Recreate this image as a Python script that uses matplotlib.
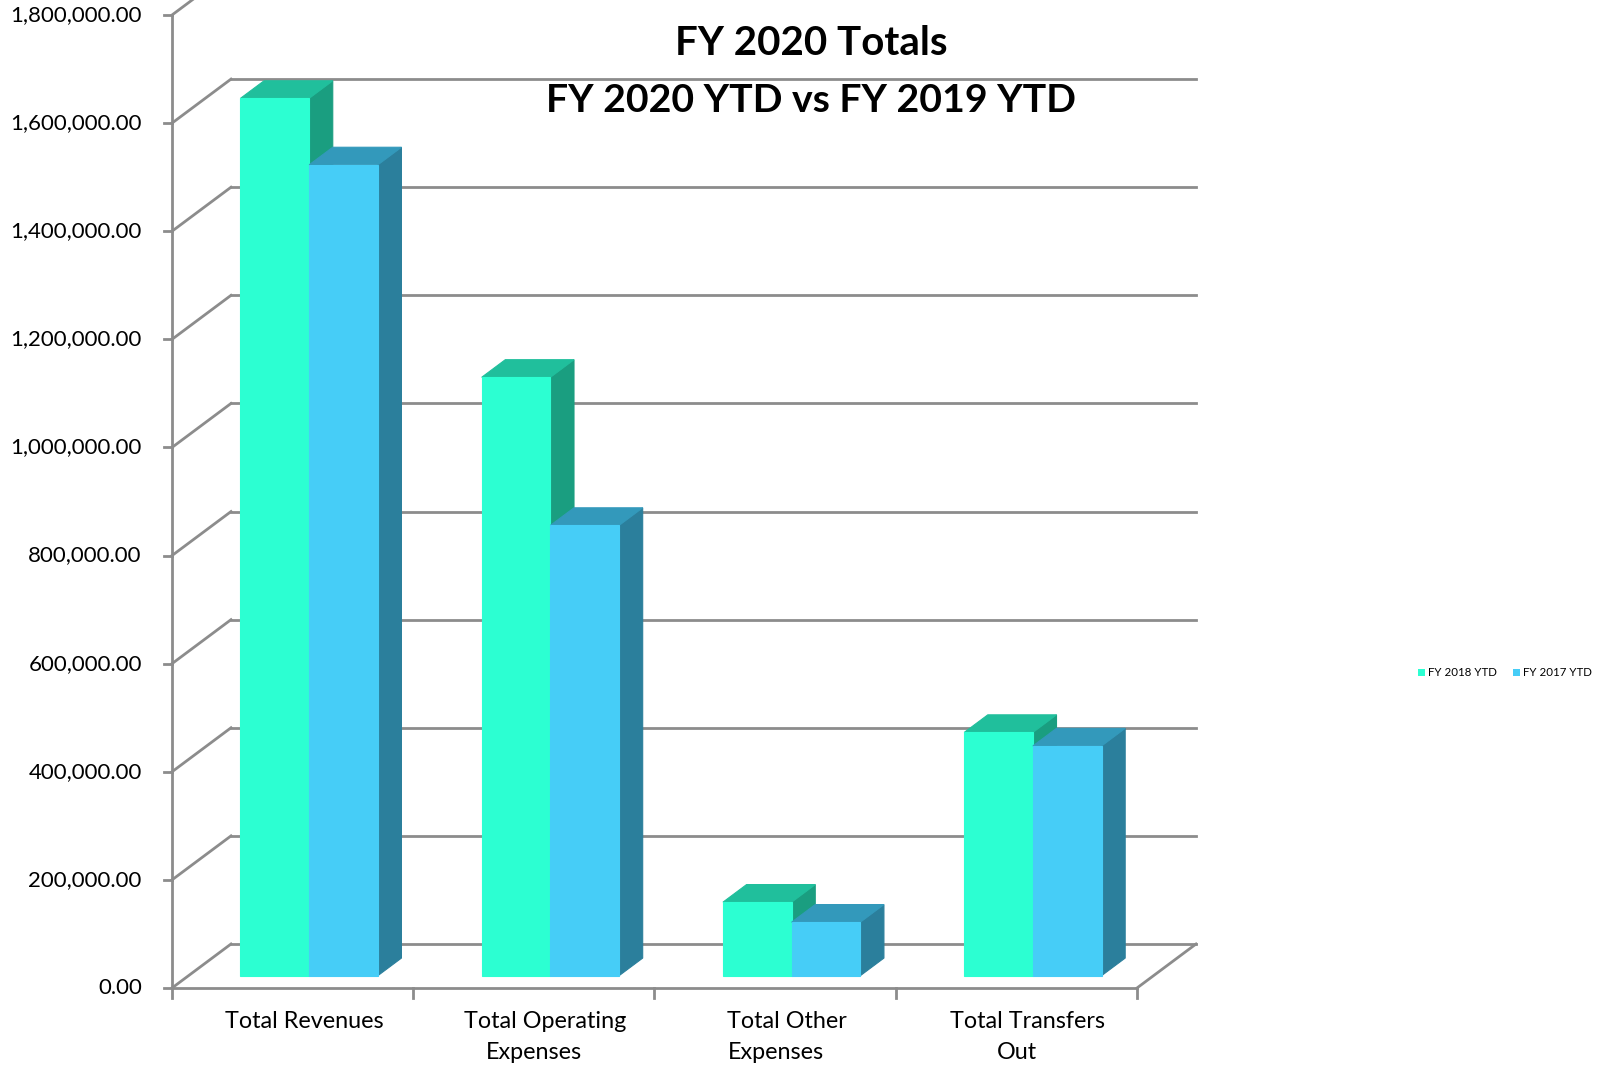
import numpy as np
import matplotlib
matplotlib.use("Agg")
import matplotlib.pyplot as plt
from matplotlib.patches import Polygon

plt.rcParams['font.family'] = ['Lato', 'DejaVu Sans']

categories = ["Total Revenues", "Total Operating\nExpenses", "Total Other\nExpenses", "Total Transfers\nOut"]
series_names = ["FY 2018 YTD", "FY 2017 YTD"]
fy2018 = [1623000, 1107000, 136000, 450000]
fy2017 = [1500000, 833000, 99000, 425000]
yticks = np.arange(0, 1800001, 200000)

# face colours: front, top, side
green = ("#2CFFD2", "#20BF9C", "#1A9E80")
blue = ("#46CDF7", "#3399BB", "#2B7F9C")
grid_c = "#8C8C8C"

# fake 3d: depth d in [0, 1] shifts a point right by d*DX and up by d*DY
DX = 0.2446
DY = 81400
D0, D1 = 0.28, 0.68   # bar front / back depth
BW = 0.2847           # width of one bar


def proj(x, y, d):
    return (x + d * DX, y + d * DY)


def draw_box(ax, x0, x1, h, cols):
    front = [proj(x0, 0, D0), proj(x1, 0, D0), proj(x1, h, D0), proj(x0, h, D0)]
    top = [proj(x0, h, D0), proj(x1, h, D0), proj(x1, h, D1), proj(x0, h, D1)]
    side = [proj(x1, 0, D0), proj(x1, 0, D1), proj(x1, h, D1), proj(x1, h, D0)]
    for pts, c in ((side, cols[2]), (top, cols[1]), (front, cols[0])):
        ax.add_patch(Polygon(pts, closed=True, facecolor=c, edgecolor=c,
                             lw=0.8, zorder=3, clip_on=False))


fig = plt.figure(figsize=(16.06, 10.70), dpi=100)
ax = fig.add_axes([172 / 1606, 82 / 1070, 965 / 1606, 973 / 1070])
ax.set_xlim(0, 4)
ax.set_ylim(0, 1800000)
ax.axis("off")

n = len(categories)
lw = 2.0
# back wall and side wall gridlines
for v in yticks:
    ax.plot([DX, n + DX], [v + DY, v + DY], color=grid_c, lw=lw, zorder=1, clip_on=False)
    ax.plot([0, DX], [v, v + DY], color=grid_c, lw=lw, zorder=1, clip_on=False)
    ax.plot([-0.033, 0], [v, v], color=grid_c, lw=lw, zorder=1, clip_on=False)
    ax.text(-0.125, v, f"{v:,.2f}", ha="right", va="center", fontsize=16, color="#000000")

# front axis, floor edge and floor right side
ax.plot([0, 0], [0, yticks[-1]], color=grid_c, lw=lw, zorder=1, clip_on=False)
ax.plot([0, n], [0, 0], color=grid_c, lw=lw, zorder=4, clip_on=False)
ax.plot([n, n + DX], [0, DY], color=grid_c, lw=lw, zorder=1, clip_on=False)
for i in range(n + 1):
    ax.plot([i, i], [0, -18000], color=grid_c, lw=lw, zorder=4, clip_on=False)

for i in range(n):
    left = i + 0.5 - BW
    draw_box(ax, left, left + BW, fy2018[i], green)
    draw_box(ax, left + BW, left + 2 * BW, fy2017[i], blue)
    # wrapped labels: first line sits a little right of the rest
    for k, line in enumerate(categories[i].split("\n")):
        xc = i + 0.548 if k == 0 else i + 0.502
        ax.text(xc, -43000 - k * 56800, line, ha="center", va="top",
                fontsize=16.8, color="#000000")

fig.text(0.505, 0.959, "FY 2020 Totals", ha="center", va="center",
         fontsize=29, fontweight="bold")
fig.text(0.505, 0.906, "FY 2020 YTD vs FY 2019 YTD", ha="center", va="center",
         fontsize=28.3, fontweight="bold")

# legend
lx = 1418 / 1606
ly = 1 - 672 / 1070
for name, cols, off in ((series_names[0], green, 0.0), (series_names[1], blue, 0.059)):
    fig.patches.append(Polygon([(lx + off, ly - 0.004), (lx + off + 0.0045, ly - 0.004),
                                (lx + off + 0.0045, ly + 0.0027), (lx + off, ly + 0.0027)],
                               closed=True, transform=fig.transFigure,
                               facecolor=cols[0], edgecolor="none"))
    fig.text(lx + off + 0.0065, ly - 0.0006, name, ha="left", va="center", fontsize=8.3)

fig.savefig("out.png", dpi=100, facecolor="white")
